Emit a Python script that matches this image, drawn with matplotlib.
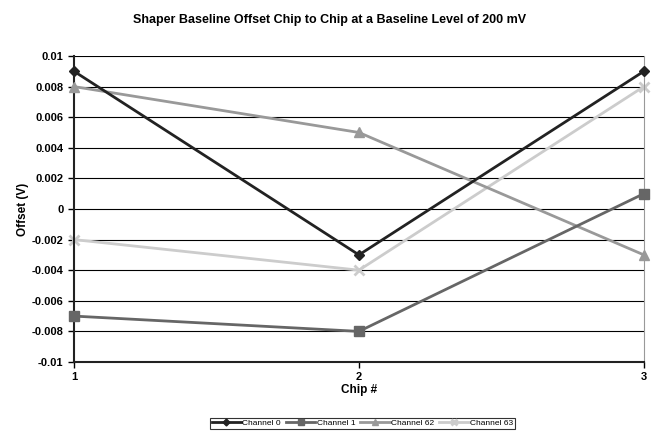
import matplotlib
matplotlib.use("Agg")
import matplotlib.pyplot as plt

chips = [1, 2, 3]
ch0 = [0.009, -0.003, 0.009]
ch1 = [-0.007, -0.008, 0.001]
ch62 = [0.008, 0.005, -0.003]
ch63 = [-0.002, -0.004, 0.008]
yticks = [-0.01, -0.008, -0.006, -0.004, -0.002, 0, 0.002, 0.004, 0.006, 0.008, 0.01]
ytick_labels = ["-0.01", "-0.008", "-0.006", "-0.004", "-0.002", "0", "0.002", "0.004", "0.006", "0.008", "0.01"]

plt.rcParams['font.family'] = ['Liberation Sans', 'DejaVu Sans']
fig = plt.figure(figsize=(6.59, 4.33), dpi=100)
ax = fig.add_axes([0.1123, 0.164, 0.977 - 0.1123, 0.8707 - 0.164])

ax.plot(chips, ch0, color='#222222', marker='D', markersize=5, lw=2, label='Channel 0', clip_on=False, zorder=5)
ax.plot(chips, ch1, color='#666666', marker='s', markersize=7, lw=2, label='Channel 1', clip_on=False, zorder=4)
ax.plot(chips, ch62, color='#999999', marker='^', markersize=7, lw=2, label='Channel 62', clip_on=False, zorder=3)
ax.plot(chips, ch63, color='#cccccc', marker='x', markersize=7, mew=2, lw=2, label='Channel 63', clip_on=False, zorder=2)

ax.set_xlim(1, 3)
ax.set_ylim(-0.01, 0.01)
ax.set_yticks(yticks)
ax.set_yticklabels(ytick_labels)
ax.set_xticks(chips)
ax.set_xticklabels([str(c) for c in chips])
ax.yaxis.grid(True, color='black', lw=0.8)
ax.set_axisbelow(True)
ax.spines['top'].set_visible(False)
ax.spines['right'].set_color('#999999')
ax.spines['left'].set_color('#222222')
ax.spines['bottom'].set_color('#222222')
ax.spines['left'].set_linewidth(1.5)
ax.spines['bottom'].set_linewidth(1.5)
ax.tick_params(axis='both', labelsize=8, length=4, width=1)
for t in ax.get_xticklabels() + ax.get_yticklabels():
    t.set_fontweight('bold')

ax.set_xlabel('Chip #', fontsize=8.5, fontweight='bold', labelpad=1)
ax.set_ylabel('Offset (V)', fontsize=8.5, fontweight='bold', labelpad=2)
fig.suptitle('Shaper Baseline Offset Chip to Chip at a Baseline Level of 200 mV',
             fontsize=9, fontweight='bold', y=0.968)

leg = fig.legend(loc='lower center', bbox_to_anchor=(0.55, 0.0), ncol=4, fontsize=6,
                 frameon=True, fancybox=False, edgecolor='black', handlelength=3.5,
                 handletextpad=0.2, columnspacing=0.6, borderpad=0.2, markerscale=0.7)
leg.get_frame().set_linewidth(0.8)

fig.savefig('out.png', dpi=100)
